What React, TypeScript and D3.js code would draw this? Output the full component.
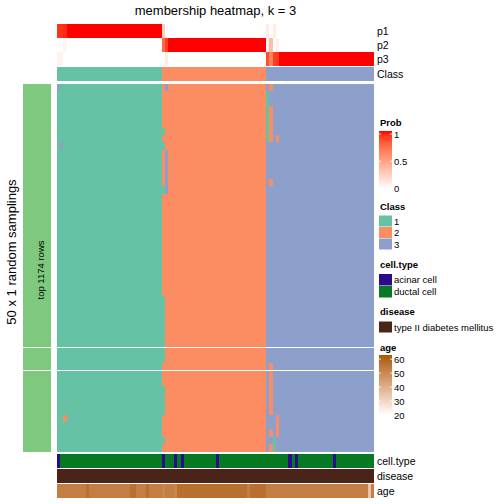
import React from "react";
import * as d3 from "d3";

const chartTitle = "membership heatmap, k = 3";
const leftTitle = "50 x 1 random samplings";
const sliceLabel = "top 1174 rows";
const nSamples = 100;
const classCounts = [33, 33, 34];
const classLabels = ["1", "2", "3"];
const classColors = ["#66c2a5", "#fc8d62", "#8da0cb"];
const rowSliceSizes = [36, 3, 11];
const probNames = ["p1", "p2", "p3"];
// [column, p1, p2, p3] for columns that are not a clean 1/0 membership
const probExceptions = [
  [0, 0.93, 0, 0.07],
  [1, 0.93, 0, 0.07],
  [2, 0.95, 0.05, 0],
  [33, 0.25, 0.75, 0],
  [34, 0, 0.9, 0.1],
  [66, 0.1, 0.05, 0.85],
  [67, 0, 0.35, 0.65],
  [68, 0.1, 0, 0.9],
  [69, 0, 0.08, 0.92],
];
// [firstRow, lastRow, column, class] cells whose sampled class differs from the column class
const samplingDeviations = [
  [0, 0, 0, 3], [0, 0, 34, 3], [0, 0, 67, 2],
  [1, 7, 66, 1], [3, 7, 67, 2], [7, 7, 69, 2],
  [6, 6, 33, 1], [8, 8, 33, 1], [14, 14, 33, 1], [8, 8, 1, 3],
  [9, 14, 34, 3], [13, 13, 67, 2], [29, 37, 33, 1], [38, 38, 67, 2],
  [39, 44, 67, 2], [41, 44, 33, 1], [45, 47, 69, 2], [45, 45, 2, 2],
  [47, 47, 67, 2], [48, 49, 68, 1], [48, 48, 33, 1], [49, 49, 67, 2],
];
const cellTypeNames = ["acinar cell", "ductal cell"];
const cellTypeColors = ["#2c0b8a", "#057a22"];
const acinarColumns = [0, 33, 37, 39, 50, 73, 75, 87];
const diseaseName = "type II diabetes mellitus";
const diseaseColor = "#4b2419";
const ages = [
  53, 53, 53, 53, 53, 53, 53, 53, 53, 57,
  53, 53, 53, 53, 53, 53, 53, 53, 53, 53,
  53, 53, 53, 57, 57, 53, 53, 53, 57, 53,
  53, 53, 53, 51, 53, 53, 53, 51, 57, 57,
  57, 57, 57, 57, 57, 57, 57, 57, 57, 57,
  57, 57, 57, 57, 57, 57, 57, 57, 57, 57,
  53, 57, 57, 57, 57, 57, 53, 53, 53, 53,
  53, 53, 53, 53, 53, 53, 53, 53, 53, 53,
  53, 53, 53, 53, 53, 53, 53, 53, 53, 53,
  53, 53, 53, 53, 53, 53, 53, 53, 35, 53,
];
const ageTicks = [60, 50, 40, 30, 20];
const probTicks = [1, 0.5, 0];

const FONT = "'Liberation Sans', Arial, Helvetica, sans-serif";

export default function App() {
  const cols = d3.range(nSamples);
  const x = d3.scaleBand<number>().domain(cols).range([57, 374]).padding(0);
  const colClass: number[] = [];
  classCounts.forEach((n, i) => { for (let k = 0; k < n; k++) colClass.push(i + 1); });

  const probColor = d3.scaleLinear<string>().domain([0, 1]).range(["#ffffff", "#ff0000"]).interpolate(d3.interpolateLab);
  const ageColor = d3.scaleLinear<string>().domain([20, 63]).range(["#ffffff", "#aa5900"]).interpolate(d3.interpolateLab);

  const probs = cols.map((c) => {
    const ex = probExceptions.find((e) => e[0] === c);
    if (ex) return [ex[1], ex[2], ex[3]];
    return [1, 2, 3].map((k) => (colClass[c] === k ? 1 : 0));
  });

  const nRows = d3.sum(rowSliceSizes);
  const mainTop = 84, mainBottom = 451.5, gap = 1;
  const rowH = (mainBottom - mainTop - gap * (rowSliceSizes.length - 1)) / nRows;
  const slices: { rows: number[]; y: d3.ScaleBand<number>; y0: number; y1: number }[] = [];
  let start = 0;
  rowSliceSizes.forEach((n, si) => {
    const rows = d3.range(start, start + n);
    const y0 = mainTop + start * rowH + si * gap;
    const y1 = y0 + n * rowH;
    slices.push({ rows, y: d3.scaleBand<number>().domain(rows).range([y0, y1]).padding(0), y0, y1 });
    start += n;
  });

  const cellClass = (r: number, c: number) => {
    let k = colClass[c];
    for (const d of samplingDeviations) if (r >= d[0] && r <= d[1] && c === d[2]) k = d[3];
    return k;
  };

  const topY = d3.scaleBand<number>().domain([0, 1, 2]).range([24, 65.7]).padding(0);
  const classRow = { y: 67, h: 14.3 };
  const bottomRows = [
    { name: "cell.type", y: 454, h: 14 },
    { name: "disease", y: 469, h: 14 },
    { name: "age", y: 484, h: 14.3 },
  ];

  const mainRects: JSX.Element[] = [];
  slices.forEach((s) => {
    s.rows.forEach((r) => {
      cols.forEach((c) => {
        mainRects.push(
          <rect key={`m${r}-${c}`} x={x(c)} y={s.y(r)} width={x.bandwidth() + 0.3} height={s.y.bandwidth() + 0.3}
            fill={classColors[cellClass(r, c) - 1]} />
        );
      });
    });
  });

  const lx = 379, lw = 13, tx = 394;
  const probLegendY = d3.scaleLinear().domain([1, 0]).range([134, 188.5]);
  const ageLegendY = d3.scaleLinear().domain([63, 20]).range([355, 415]);
  const gradStopsProb = d3.range(0, 1.0001, 0.1);
  const gradStopsAge = d3.range(20, 63.01, 43 / 10);

  return (
    <svg width={504} height={504} style={{ position: "absolute", left: 0, top: 0, background: "#fff" }} fontFamily={FONT}>
      <defs>
        <linearGradient id="probGrad" x1="0" y1="1" x2="0" y2="0">
          {gradStopsProb.map((v, i) => (
            <stop key={i} offset={`${v * 100}%`} stopColor={probColor(v)} />
          ))}
        </linearGradient>
        <linearGradient id="ageGrad" x1="0" y1="1" x2="0" y2="0">
          {gradStopsAge.map((v, i) => (
            <stop key={i} offset={`${((v - 20) / 43) * 100}%`} stopColor={ageColor(v)} />
          ))}
        </linearGradient>
      </defs>
      <rect x={0} y={0} width={504} height={504} fill="#fff" />
      <text x={215.5} y={15} fontSize={13} textAnchor="middle" fill="#000">{chartTitle}</text>

      <g shapeRendering="crispEdges">
        {probNames.map((p, k) =>
          cols.map((c) => (
            <rect key={`p${k}-${c}`} x={x(c)} y={topY(k)} width={x.bandwidth() + 0.3} height={topY.bandwidth() + 0.2}
              fill={probColor(probs[c][k])} />
          ))
        )}
        {cols.map((c) => (
          <rect key={`cl${c}`} x={x(c)} y={classRow.y} width={x.bandwidth() + 0.3} height={classRow.h}
            fill={classColors[colClass[c] - 1]} />
        ))}
      </g>
      {probNames.map((p, k) => (
        <text key={p} x={377} y={(topY(k) as number) + topY.bandwidth() / 2} dominantBaseline="central" fontSize={10.5} fill="#000">{p}</text>
      ))}
      <text x={377} y={classRow.y + classRow.h / 2} dominantBaseline="central" fontSize={10.5} fill="#000">Class</text>

      <g shapeRendering="crispEdges">{mainRects}</g>

      <g shapeRendering="crispEdges">
        {slices.map((s, i) => (
          <rect key={`ls${i}`} x={23} y={s.y0} width={28} height={s.y1 - s.y0} fill="#7fc97f" />
        ))}
      </g>
      <text transform={`translate(40,270) rotate(-90)`} textAnchor="middle" dominantBaseline="central" fontSize={9.5} fill="#000">{sliceLabel}</text>
      <text transform={`translate(11,252) rotate(-90)`} textAnchor="middle" dominantBaseline="central" fontSize={13} fill="#000">{leftTitle}</text>

      <g shapeRendering="crispEdges">
        {cols.map((c) => (
          <rect key={`ct${c}`} x={x(c)} y={bottomRows[0].y} width={x.bandwidth() + 0.3} height={bottomRows[0].h}
            fill={acinarColumns.includes(c) ? cellTypeColors[0] : cellTypeColors[1]} />
        ))}
        {cols.map((c) => (
          <rect key={`dz${c}`} x={x(c)} y={bottomRows[1].y} width={x.bandwidth() + 0.3} height={bottomRows[1].h} fill={diseaseColor} />
        ))}
        {cols.map((c) => (
          <rect key={`ag${c}`} x={x(c)} y={bottomRows[2].y} width={x.bandwidth() + 0.3} height={bottomRows[2].h} fill={ageColor(ages[c])} />
        ))}
      </g>
      {bottomRows.map((b) => (
        <text key={b.name} x={377} y={b.y + b.h / 2} dominantBaseline="central" fontSize={10.5} fill="#000">{b.name}</text>
      ))}

      <g fontSize={9.5} fill="#000">
        <text x={380} y={126} fontWeight="bold">Prob</text>
        <rect x={lx} y={131} width={lw} height={58} fill="url(#probGrad)" />
        {probTicks.map((v) => (
          <g key={`pt${v}`}>
            <line x1={lx} x2={lx + 2} y1={probLegendY(v)} y2={probLegendY(v)} stroke="#fff" strokeWidth={0.8} />
            <line x1={lx + lw - 2} x2={lx + lw} y1={probLegendY(v)} y2={probLegendY(v)} stroke="#fff" strokeWidth={0.8} />
            <text x={tx} y={probLegendY(v)} dominantBaseline="central">{String(v)}</text>
          </g>
        ))}

        <text x={380} y={210} fontWeight="bold">Class</text>
        {classLabels.map((l, i) => (
          <g key={`cl${l}`}>
            <rect x={lx} y={215.5 + i * 11.5} width={lw} height={11} fill={classColors[i]} />
            <text x={tx} y={221 + i * 11.5} dominantBaseline="central">{l}</text>
          </g>
        ))}

        <text x={380} y={267.5} fontWeight="bold">cell.type</text>
        {cellTypeNames.map((l, i) => (
          <g key={`ctl${l}`}>
            <rect x={lx} y={274 + i * 12} width={lw} height={11.5} fill={cellTypeColors[i]} />
            <text x={tx} y={279.8 + i * 12} dominantBaseline="central">{l}</text>
          </g>
        ))}

        <text x={380} y={315} fontWeight="bold">disease</text>
        <rect x={lx} y={321.5} width={lw} height={11} fill={diseaseColor} />
        <text x={tx} y={327} dominantBaseline="central">{diseaseName}</text>

        <text x={380} y={350.5} fontWeight="bold">age</text>
        <rect x={lx} y={355} width={lw} height={60} fill="url(#ageGrad)" />
        {ageTicks.map((v) => (
          <g key={`at${v}`}>
            <line x1={lx} x2={lx + 2} y1={ageLegendY(v)} y2={ageLegendY(v)} stroke="#fff" strokeWidth={0.8} />
            <line x1={lx + lw - 2} x2={lx + lw} y1={ageLegendY(v)} y2={ageLegendY(v)} stroke="#fff" strokeWidth={0.8} />
            <text x={tx} y={ageLegendY(v)} dominantBaseline="central">{String(v)}</text>
          </g>
        ))}
      </g>
    </svg>
  );
}
